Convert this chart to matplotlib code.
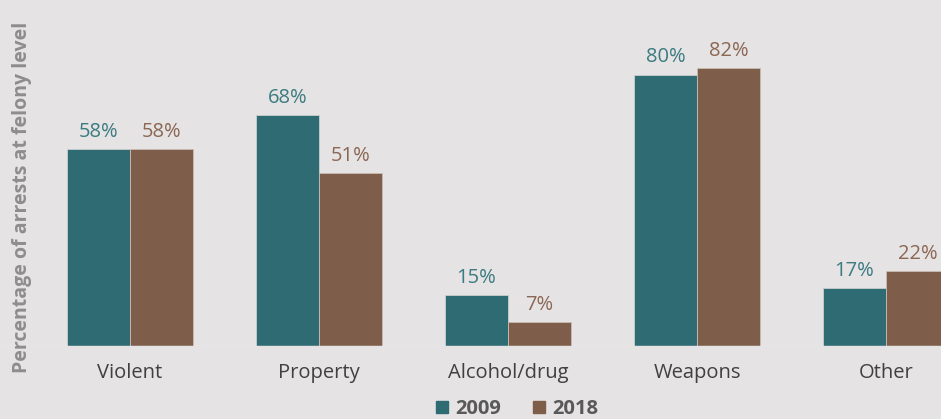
import numpy as np
import matplotlib.pyplot as plt
from matplotlib.patches import Patch

# Data
categories = ['Violent', 'Property', 'Alcohol/drug', 'Weapons', 'Other']
pct_2009 = [58, 68, 15, 80, 17]
pct_2018 = [58, 51, 7, 82, 22]
series_names = ['2009', '2018']

bg = '#e5e3e4'
teal = '#2f6b72'
brown = '#7e5d4a'

plt.rcParams['font.family'] = ['Open Sans', 'DejaVu Sans']

fig = plt.figure(figsize=(9.41, 4.19), dpi=100, facecolor=bg)
ax = fig.add_axes([0, 73 / 419, 1, 346 / 419])
ax.set_facecolor(bg)

x = np.arange(len(categories))
w = 1 / 3
b1 = ax.bar(x - w / 2, pct_2009, w, color=teal, edgecolor='#c9cfd0', linewidth=0.6)
b2 = ax.bar(x + w / 2, pct_2018, w, color=brown, edgecolor='#c9bcb3', linewidth=0.6)

for rect, v in zip(b1, pct_2009):
    ax.text(rect.get_x() + rect.get_width() / 2, v + 2.2, f'{v}%',
            ha='center', va='bottom', fontsize=14.5, color='#3b7b81')
for rect, v in zip(b2, pct_2018):
    ax.text(rect.get_x() + rect.get_width() / 2, v + 2.2, f'{v}%',
            ha='center', va='bottom', fontsize=14.5, color='#8b6753')

ax.set_xlim(-130 / 189, 811 / 189)
ax.set_ylim(0, 346 / 3.39)
ax.axhline(0, color='#f2f2f2', linewidth=1)
for s in ax.spines.values():
    s.set_visible(False)
ax.set_yticks([])
ax.set_xticks(x)
ax.set_xticklabels(categories, fontsize=14.5, color='#404040')
ax.tick_params(axis='x', length=0, pad=12)

fig.text(22 / 941, 1 - 197 / 419, 'Percentage of arrests at felony level', rotation=90,
         ha='center', va='center', fontsize=14, fontweight='bold', color='#8d8d8d')

handles = [Patch(color=teal), Patch(color=brown)]
fig.legend(handles, series_names, loc='center', bbox_to_anchor=(517 / 941, 1 - 409 / 419),
           ncol=2, frameon=False, handlelength=0.6, handleheight=0.6, handletextpad=0.35,
           columnspacing=1.6, prop={'weight': 'bold', 'size': 14.5}, labelcolor='#595959')

fig.savefig('out.png', dpi=100, facecolor=bg)
